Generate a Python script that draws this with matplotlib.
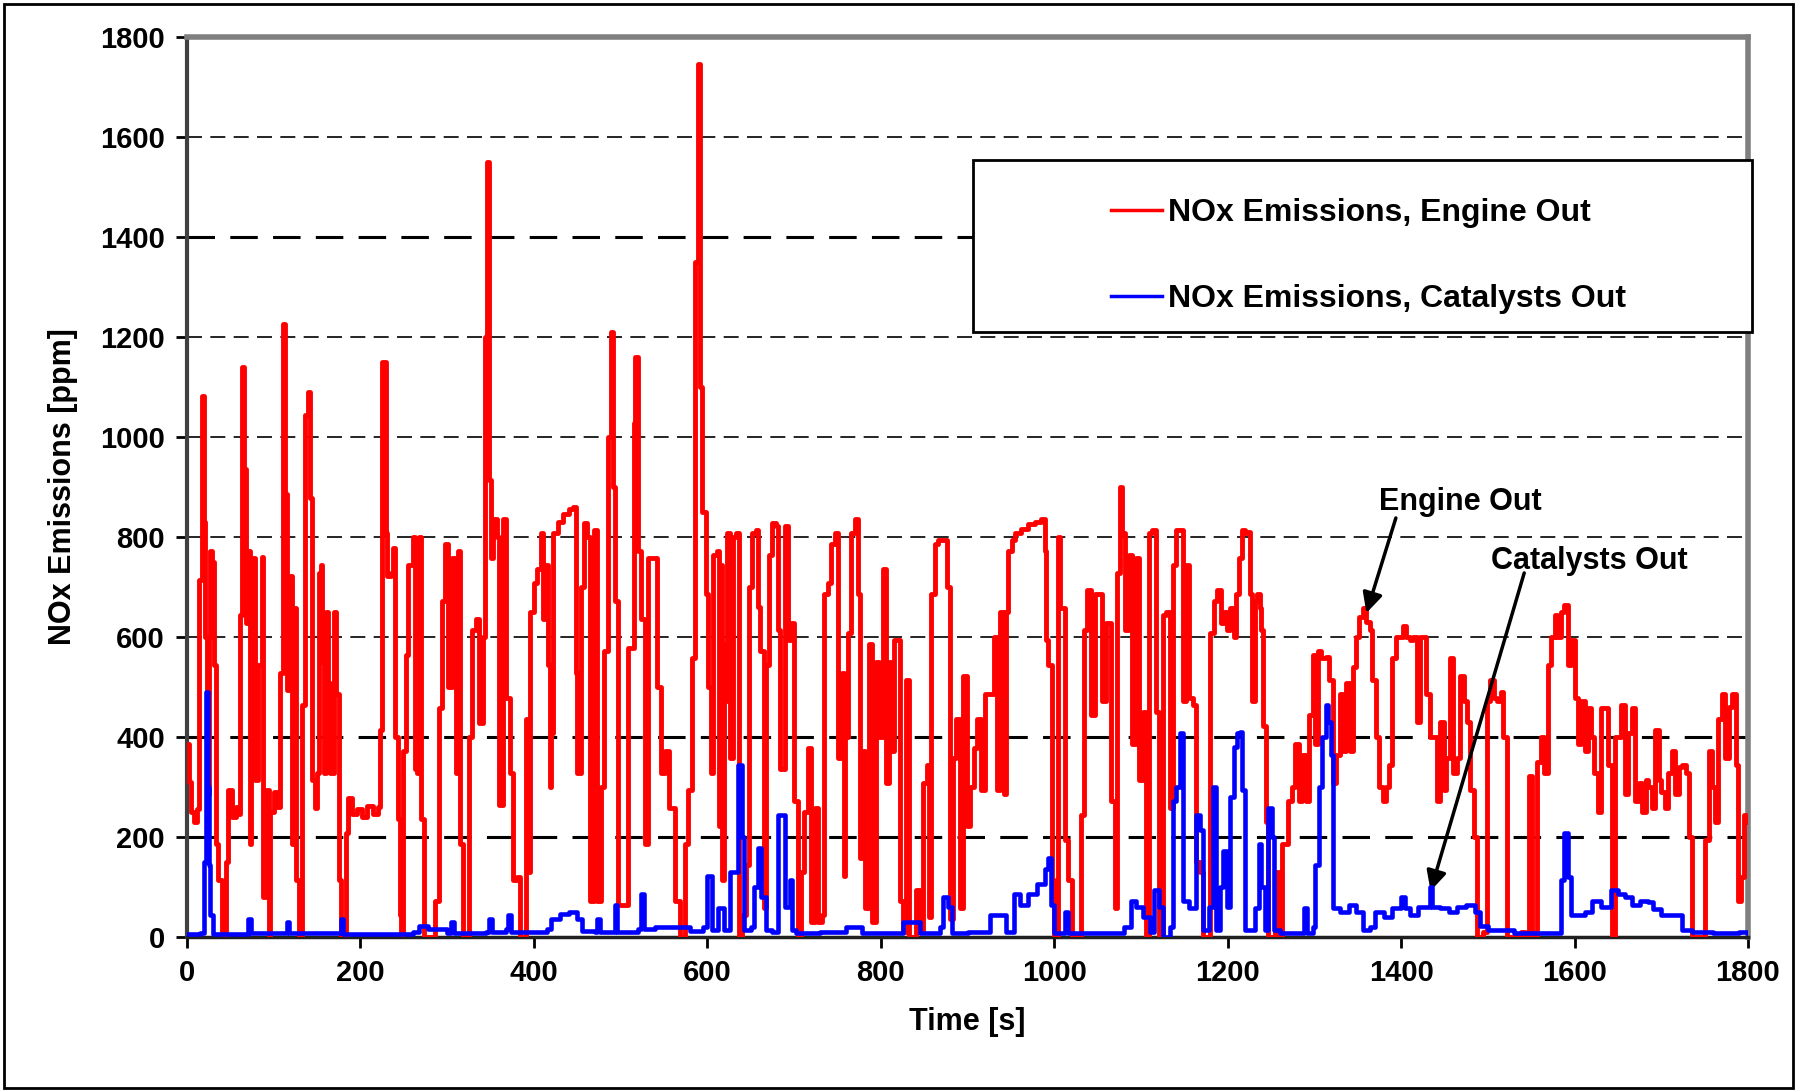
"""
NOx emissions over the test cycle: engine out vs. catalysts out.
"""

import numpy as np
import matplotlib
matplotlib.use("Agg")
import matplotlib.pyplot as plt
from matplotlib.patches import Rectangle

plt.rcParams['font.family'] = ['Liberation Sans', 'DejaVu Sans']
plt.rcParams['font.weight'] = 'bold'

# Engine-out trace as (time [s], ppm)
engine = [
    (0, 385), (2, 310), (4, 250), (8, 230), (12, 255), (14, 714), (17, 1082), (19, 830),
    (21, 600), (23, 285), (25, 600), (27, 771), (29, 750), (31, 543), (33, 186), (36, 114),
    (40, 0), (43, 0), (45, 150), (47, 293), (52, 240), (56, 260), (60, 245), (61, 643),
    (63, 1140), (66, 935), (68, 628), (70, 771), (72, 186), (74, 757), (78, 314), (82, 543),
    (86, 760), (88, 79), (91, 293), (94, 0), (96, 250), (100, 290), (104, 260), (107, 528),
    (111, 1225), (113, 885), (115, 493), (119, 721), (121, 186), (123, 657), (126, 114),
    (129, 0), (132, 464), (136, 1043), (139, 1090), (142, 878), (144, 314), (147, 257),
    (150, 328), (152, 728), (154, 743), (156, 550), (158, 328), (160, 650), (163, 507),
    (165, 328), (169, 650), (172, 486), (175, 114), (177, 0), (181, 0), (183, 207),
    (186, 278), (190, 245), (196, 255), (202, 240), (208, 262), (214, 245), (220, 260),
    (222, 414), (225, 1150), (229, 807), (231, 721), (235, 728), (238, 778), (240, 400),
    (243, 236), (245, 43), (247, 0), (249, 371), (252, 564), (255, 743), (260, 800),
    (263, 336), (265, 328), (267, 800), (270, 236), (273, 0), (276, 0), (286, 71), (290, 457),
    (294, 671), (298, 786), (301, 500), (306, 757), (310, 328), (313, 771), (315, 186),
    (318, 0), (322, 0), (325, 400), (329, 614), (333, 636), (337, 428), (341, 600),
    (344, 1200), (346, 1550), (348, 914), (350, 757), (353, 836), (357, 800), (360, 264),
    (364, 836), (368, 478), (372, 328), (376, 114), (380, 120), (384, 0), (390, 0),
    (391, 436), (394, 129), (396, 650), (400, 707), (404, 736), (408, 807), (411, 636),
    (413, 743), (416, 543), (418, 300), (420, 407), (422, 807), (428, 830), (434, 845),
    (440, 855), (445, 860), (448, 528), (450, 328), (454, 700), (458, 828), (461, 800),
    (465, 71), (469, 814), (473, 71), (477, 300), (481, 571), (485, 1000), (489, 1210),
    (491, 900), (493, 671), (497, 64), (504, 64), (508, 578), (512, 578), (515, 1028),
    (517, 1160), (520, 771), (524, 636), (528, 186), (532, 757), (537, 757), (542, 500),
    (547, 328), (551, 371), (556, 257), (563, 71), (568, 0), (574, 186), (578, 293),
    (582, 557), (586, 1350), (589, 1745), (592, 1100), (594, 850), (598, 686), (601, 500),
    (604, 328), (607, 764), (609, 764), (611, 771), (613, 221), (615, 743), (617, 114),
    (619, 586), (621, 471), (623, 807), (626, 357), (630, 800), (633, 807), (636, 0),
    (640, 43), (644, 143), (648, 700), (652, 807), (656, 814), (658, 660), (661, 571),
    (665, 57), (668, 543), (671, 764), (675, 828), (679, 821), (681, 614), (684, 336),
    (689, 821), (693, 593), (696, 628), (700, 271), (704, 0), (708, 129), (712, 250),
    (716, 378), (720, 29), (724, 257), (728, 29), (732, 43), (735, 686), (739, 707),
    (743, 786), (747, 807), (751, 357), (755, 528), (757, 121), (759, 400), (762, 607),
    (766, 807), (770, 836), (774, 686), (776, 157), (779, 371), (782, 57), (786, 586),
    (790, 29), (794, 550), (798, 400), (802, 736), (806, 307), (809, 550), (812, 371),
    (815, 593), (819, 593), (822, 71), (826, 10), (829, 514), (833, 0), (841, 93),
    (845, 10), (849, 307), (853, 343), (856, 40), (858, 686), (862, 786), (866, 793),
    (872, 793), (876, 700), (880, 36), (883, 357), (887, 436), (891, 57), (895, 521),
    (899, 221), (903, 300), (907, 378), (911, 436), (915, 293), (920, 486), (926, 486),
    (930, 600), (934, 293), (938, 650), (942, 286), (944, 650), (947, 771), (951, 793),
    (955, 807), (962, 815), (970, 825), (978, 830), (985, 836), (989, 771), (991, 593),
    (993, 543), (997, 114), (1000, 0), (1004, 800), (1007, 657), (1010, 657), (1012, 193),
    (1016, 114), (1020, 0), (1024, 0), (1031, 243), (1034, 614), (1038, 693), (1042, 443),
    (1047, 686), (1051, 686), (1055, 471), (1060, 628), (1065, 271), (1070, 57),
    (1072, 728), (1076, 900), (1078, 807), (1082, 614), (1086, 764), (1090, 386),
    (1094, 757), (1098, 314), (1102, 450), (1106, 0), (1109, 807), (1113, 814), (1117, 450),
    (1121, 0), (1125, 643), (1129, 650), (1133, 257), (1137, 743), (1141, 814), (1145, 814),
    (1148, 471), (1152, 743), (1156, 478), (1160, 464), (1164, 150), (1168, 129), (1172, 0),
    (1176, 0), (1180, 607), (1184, 671), (1188, 693), (1192, 628), (1196, 650), (1199, 614),
    (1203, 657), (1207, 600), (1210, 686), (1213, 757), (1216, 814), (1220, 807),
    (1224, 810), (1226, 686), (1228, 471), (1231, 671), (1234, 686), (1237, 657),
    (1239, 614), (1241, 421), (1244, 229), (1247, 0), (1251, 0), (1255, 129), (1259, 0),
    (1263, 186), (1267, 186), (1270, 271), (1274, 300), (1278, 386), (1282, 271),
    (1286, 364), (1290, 271), (1294, 443), (1298, 564), (1301, 386), (1304, 571),
    (1308, 557), (1313, 560), (1317, 514), (1321, 307), (1325, 364), (1329, 486),
    (1333, 371), (1337, 507), (1341, 371), (1345, 540), (1348, 600), (1352, 640),
    (1356, 657), (1360, 630), (1364, 614), (1367, 514), (1371, 400), (1375, 300),
    (1379, 271), (1383, 300), (1386, 343), (1390, 557), (1394, 600), (1398, 600),
    (1402, 621), (1406, 600), (1410, 593), (1414, 600), (1418, 429), (1422, 600),
    (1425, 600), (1429, 486), (1433, 400), (1437, 400), (1441, 271), (1445, 429),
    (1449, 293), (1452, 357), (1456, 557), (1460, 328), (1464, 357), (1468, 521),
    (1472, 471), (1476, 429), (1480, 293), (1484, 200), (1487, 0), (1491, 0), (1495, 10),
    (1499, 471), (1503, 514), (1507, 478), (1511, 471), (1515, 490), (1518, 400),
    (1522, 0), (1530, 0), (1538, 10), (1543, 0), (1547, 321), (1551, 0), (1557, 350),
    (1561, 400), (1565, 328), (1569, 543), (1573, 600), (1577, 643), (1580, 600),
    (1584, 650), (1588, 664), (1592, 543), (1596, 593), (1600, 478), (1604, 386),
    (1608, 471), (1612, 371), (1616, 457), (1619, 400), (1623, 328), (1627, 250),
    (1631, 457), (1635, 457), (1639, 343), (1643, 0), (1647, 400), (1650, 400),
    (1654, 464), (1658, 286), (1662, 407), (1666, 457), (1670, 271), (1674, 307),
    (1678, 250), (1682, 314), (1685, 300), (1689, 257), (1693, 414), (1697, 314),
    (1700, 290), (1704, 257), (1708, 328), (1712, 371), (1716, 286), (1720, 340),
    (1724, 343), (1728, 328), (1732, 200), (1736, 0), (1743, 0), (1747, 0), (1751, 193),
    (1755, 371), (1758, 300), (1762, 229), (1766, 436), (1770, 486), (1774, 357),
    (1778, 460), (1782, 486), (1786, 343), (1789, 71), (1792, 120), (1795, 243),
    (1798, 229), (1800, 240),
]

# Catalysts-out trace, (time [s], ppm)
catalyst = [
    (0, 5), (15, 8), (19, 150), (22, 490), (24, 300), (25, 143), (27, 43), (30, 5),
    (65, 5), (70, 36), (74, 8), (110, 8), (115, 29), (118, 8), (175, 8), (177, 36),
    (180, 5), (260, 10), (268, 21), (278, 15), (300, 8), (304, 29), (308, 8), (345, 10),
    (348, 36), (352, 10), (368, 15), (370, 43), (374, 10), (415, 15), (420, 35), (430, 45),
    (441, 50), (450, 35), (456, 12), (470, 10), (473, 36), (476, 10), (490, 10), (493, 64),
    (496, 10), (520, 15), (524, 86), (527, 15), (540, 20), (560, 20), (580, 12), (595, 20),
    (600, 121), (605, 14), (612, 57), (619, 14), (626, 129), (632, 129), (635, 343),
    (640, 200), (642, 14), (650, 20), (654, 100), (658, 178), (662, 79), (668, 14),
    (675, 10), (681, 243), (686, 243), (690, 60), (695, 114), (698, 14), (702, 7),
    (730, 10), (760, 20), (778, 7), (826, 29), (837, 29), (845, 7), (868, 20), (872, 79),
    (878, 60), (882, 7), (900, 10), (926, 43), (936, 43), (944, 10), (954, 86), (960, 64),
    (970, 85), (980, 105), (989, 136), (993, 157), (996, 64), (1000, 7), (1008, 7),
    (1012, 50), (1016, 7), (1060, 7), (1080, 20), (1088, 71), (1094, 60), (1102, 40),
    (1110, 10), (1115, 93), (1121, 60), (1125, 0), (1133, 20), (1137, 271), (1141, 300),
    (1145, 407), (1148, 71), (1155, 57), (1160, 57), (1164, 243), (1168, 214), (1172, 14),
    (1178, 60), (1183, 300), (1187, 14), (1191, 100), (1195, 171), (1199, 60), (1203, 280),
    (1207, 380), (1211, 407), (1214, 410), (1216, 293), (1220, 14), (1224, 14), (1232, 57),
    (1236, 186), (1239, 100), (1243, 14), (1247, 257), (1251, 200), (1253, 14), (1260, 7),
    (1286, 7), (1288, 57), (1292, 7), (1298, 20), (1301, 143), (1305, 300), (1309, 400),
    (1313, 464), (1316, 430), (1319, 364), (1321, 57), (1330, 50), (1340, 64), (1348, 50),
    (1356, 14), (1364, 20), (1370, 50), (1380, 40), (1390, 57), (1400, 79), (1405, 57),
    (1410, 43), (1420, 60), (1433, 100), (1436, 60), (1445, 57), (1455, 50), (1465, 60),
    (1475, 64), (1485, 50), (1491, 21), (1500, 14), (1520, 14), (1530, 7), (1580, 7),
    (1584, 114), (1588, 207), (1592, 120), (1596, 43), (1604, 43), (1612, 50), (1620, 71),
    (1630, 60), (1642, 93), (1650, 86), (1658, 80), (1666, 64), (1675, 71), (1685, 70),
    (1690, 55), (1700, 43), (1715, 43), (1724, 14), (1735, 10), (1760, 7), (1790, 10),
    (1800, 7),
]

x_ticks = [0, 200, 400, 600, 800, 1000, 1200, 1400, 1600, 1800]
y_ticks = [0, 200, 400, 600, 800, 1000, 1200, 1400, 1600, 1800]
labels = ["NOx Emissions, Engine Out", "NOx Emissions, Catalysts Out"]

engine = np.array(engine, dtype=float)
catalyst = np.array(catalyst, dtype=float)

fig = plt.figure(figsize=(17.97, 10.90), dpi=100)
ax = fig.add_axes([0.1041, 0.1404, 0.8686, 0.8257])

# outer frame of the figure
fig.patches.append(Rectangle((0.002, 0.002), 0.996, 0.994, transform=fig.transFigure,
                             fill=False, edgecolor='black', lw=2))

# the logger trace is stepped, so draw it that way
l1, = ax.plot(engine[:, 0], engine[:, 1], color='#ff0000', lw=3.5,
              drawstyle='steps-post', zorder=3)
l2, = ax.plot(catalyst[:, 0], catalyst[:, 1], color='#0000ff', lw=3.3,
              drawstyle='steps-post', zorder=4)

ax.set_xlim(0, 1800)
ax.set_ylim(0, 1800)
ax.set_xticks(x_ticks)
ax.set_yticks(y_ticks)
ax.tick_params(labelsize=21, length=8, width=2, direction='out', pad=8)

# dashed grid, some lines came out heavier in the original
for y in y_ticks[1:-1]:
    lw = 2.2 if y in (200, 400, 1400) else 1.2
    ax.axhline(y, color='black', lw=lw, dashes=(9, 5), zorder=1)

for side, col, w in [('left', '#404040', 3), ('bottom', '#202020', 2.5),
                     ('top', '#808080', 4), ('right', '#808080', 4)]:
    ax.spines[side].set_color(col)
    ax.spines[side].set_linewidth(w)

ax.set_xlabel("Time [s]", fontsize=22, fontweight='bold', labelpad=14)
ax.set_ylabel("NOx Emissions [ppm]", fontsize=22, fontweight='bold', labelpad=16)

# legend box
box = Rectangle((0.5035, 0.672), 0.499, 0.191, transform=ax.transAxes, facecolor='white',
                edgecolor='black', lw=2, zorder=5, clip_on=False)
ax.add_patch(box)
leg = ax.legend([l1, l2], labels, loc='center', bbox_to_anchor=(0.757, 0.7565),
                frameon=False, fontsize=23, handlelength=1.6, handletextpad=0.2,
                labelspacing=1.75)
leg.set_zorder(6)
for h in leg.get_lines():
    h.set_linewidth(2.5)
    h.set_drawstyle('default')

# annotations
arrow = dict(arrowstyle='-|>', color='black', lw=2.5, mutation_scale=30,
             shrinkA=0, shrinkB=0)
ax.text(1468, 870, "Engine Out", fontsize=22, fontweight='bold', ha='center', va='center')
ax.annotate('', xy=(1360, 648), xytext=(1394, 838), arrowprops=arrow)
ax.text(1617, 751, "Catalysts Out", fontsize=22, fontweight='bold', ha='center', va='center')
ax.annotate('', xy=(1434, 92), xytext=(1542, 728), arrowprops=arrow)

fig.savefig("out.png", dpi=100)
